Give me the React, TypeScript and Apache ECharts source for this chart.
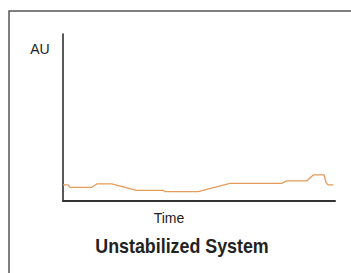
import React, { useEffect, useRef } from "react";
import * as echarts from "echarts";

const timeValues = [0, 1.9, 2.6, 10.6, 12.4, 17.9, 27.1, 36.9, 37.5, 49.7, 61.4, 80.4, 82.2, 89.6, 92.0, 96.0, 96.7, 97.5, 99.4];
const auValues = [9.6, 9.6, 8.2, 8.2, 10.2, 10.2, 6.4, 6.4, 5.6, 5.6, 10.6, 10.6, 12.0, 12.0, 15.6, 15.6, 11.0, 9.6, 9.6];
const yAxisName = "AU";
const xAxisName = "Time";
const titleText = "Unstabilized System";

export default function App() {
  const ref = useRef<HTMLDivElement>(null);
  useEffect(() => {
    if (!ref.current) return;
    const chart = echarts.init(ref.current, null, { renderer: "svg" });
    const data = timeValues.map((t, i) => [t, auValues[i]]);
    chart.setOption({
      animation: false,
      backgroundColor: "#ffffff",
      grid: { left: 63, top: 34, right: 16, bottom: 72, containLabel: false },
      xAxis: {
        type: "value",
        min: 0,
        max: 100,
        axisLine: { show: true, lineStyle: { color: "#333333", width: 2 } },
        axisTick: { show: false },
        axisLabel: { show: false },
        splitLine: { show: false },
      },
      yAxis: {
        type: "value",
        min: 0,
        max: 100,
        axisLine: { show: true, lineStyle: { color: "#222222", width: 1.5 } },
        axisTick: { show: false },
        axisLabel: { show: false },
        splitLine: { show: false },
      },
      series: [
        {
          type: "line",
          data,
          showSymbol: false,
          symbol: "none",
          lineStyle: { color: "#E39B5B", width: 1.3 },
        },
      ],
      graphic: [
        {
          type: "rect",
          shape: { x: 9, y: 11, width: 400, height: 300 },
          style: { fill: "none", stroke: "#555555", lineWidth: 1.5 },
          silent: true,
        },
        {
          type: "text",
          x: 40,
          y: 49,
          style: {
            text: yAxisName,
            font: '14px "Liberation Sans", Arial, sans-serif',
            fill: "#222222",
            textAlign: "center",
            textVerticalAlign: "middle",
          },
        },
        {
          type: "text",
          x: 169,
          y: 218,
          style: {
            text: xAxisName,
            font: '14px "Liberation Sans", Arial, sans-serif',
            fill: "#222222",
            textAlign: "center",
            textVerticalAlign: "middle",
          },
        },
        {
          type: "text",
          x: 182,
          y: 245,
          scaleX: 0.85,
          style: {
            text: titleText,
            font: 'bold 21px "Liberation Sans", Arial, sans-serif',
            fill: "#222222",
            textAlign: "center",
            textVerticalAlign: "middle",
          },
        },
      ],
    });
    return () => chart.dispose();
  }, []);
  return (
    <div
      ref={ref}
      style={{ position: "fixed", left: 0, top: 0, width: 351, height: 273 }}
    />
  );
}
